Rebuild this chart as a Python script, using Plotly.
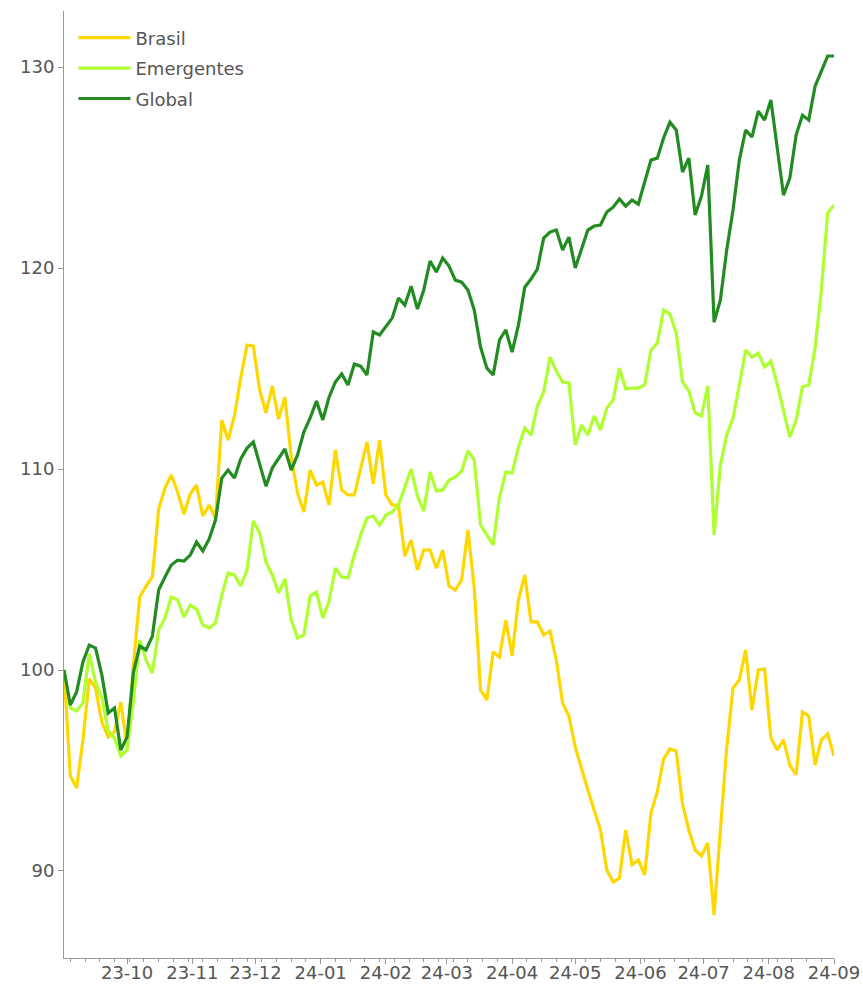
import pandas as pd
import plotly.graph_objects as go

# x grid: every 3 calendar days from 2023-09-01 to 2024-09-01 (123 points)
dates = pd.date_range("2023-09-01", "2024-09-01", freq="3D")

brasil = [
    100.00, 94.73, 94.13, 96.52, 99.55, 99.10, 97.41, 96.67, 96.92, 98.41,
    96.17, 100.25, 103.63, 104.18, 104.63, 108.01, 109.05, 109.70, 108.86, 107.76,
    108.76, 109.20, 107.66, 108.21, 107.56, 112.44, 111.44, 112.64, 114.53, 116.17,
    116.12, 113.93, 112.79, 114.13, 112.49, 113.58, 110.60, 108.81, 107.86, 109.95,
    109.20, 109.35, 108.21, 110.95, 108.96, 108.71, 108.71, 109.95, 111.34, 109.25,
    111.44, 108.71, 108.21, 108.21, 105.67, 106.47, 104.98, 105.97, 105.97, 105.07,
    105.97, 104.18, 103.98, 104.48, 106.97, 104.08, 99.00, 98.51, 100.90, 100.65,
    102.49, 100.70, 103.48, 104.73, 102.39, 102.39, 101.74, 101.94, 100.50, 98.36,
    97.71, 96.17, 95.07, 94.03, 93.03, 92.04, 90.05, 89.45, 89.65, 92.04,
    90.30, 90.55, 89.80, 92.89, 93.93, 95.57, 96.07, 95.97, 93.33, 92.04,
    91.04, 90.75, 91.39, 87.81, 92.04, 96.12, 99.10, 99.50, 101.00, 98.01,
    100.00, 100.05, 96.62, 96.02, 96.52, 95.27, 94.78, 97.91, 97.71, 95.27,
    96.52, 96.82, 95.72,
]

emergentes = [
    100.00, 98.11, 97.96, 98.36, 100.80, 99.40, 98.61, 96.97, 96.62, 95.72,
    96.02, 98.51, 101.49, 100.50, 99.85, 101.99, 102.59, 103.63, 103.48, 102.64,
    103.23, 103.03, 102.24, 102.09, 102.34, 103.73, 104.83, 104.73, 104.18, 104.98,
    107.41, 106.82, 105.37, 104.73, 103.83, 104.53, 102.49, 101.59, 101.74, 103.68,
    103.88, 102.59, 103.43, 105.07, 104.63, 104.58, 105.72, 106.72, 107.56, 107.66,
    107.21, 107.71, 107.86, 108.21, 109.10, 110.00, 108.66, 107.91, 109.85, 108.91,
    108.96, 109.45, 109.60, 109.90, 110.90, 110.45, 107.21, 106.72, 106.22, 108.61,
    109.85, 109.80, 111.09, 112.04, 111.69, 113.13, 113.83, 115.57, 114.88, 114.33,
    114.28, 111.19, 112.19, 111.69, 112.64, 111.94, 113.03, 113.43, 115.02, 113.98,
    114.03, 114.03, 114.18, 115.92, 116.27, 117.91, 117.71, 116.77, 114.33, 113.88,
    112.79, 112.64, 114.13, 106.72, 110.20, 111.69, 112.54, 114.18, 115.92, 115.57,
    115.77, 115.07, 115.37, 114.23, 112.94, 111.59, 112.44, 114.08, 114.18, 116.02,
    118.91, 122.74, 123.13,
]

global_ = [
    100.00, 98.26, 98.91, 100.40, 101.24, 101.09, 99.75, 97.86, 98.11, 96.02,
    96.67, 99.90, 101.19, 101.00, 101.69, 103.98, 104.63, 105.22, 105.47, 105.42,
    105.72, 106.37, 105.92, 106.52, 107.46, 109.55, 109.95, 109.55, 110.50, 111.04,
    111.34, 110.30, 109.15, 110.05, 110.55, 111.00, 109.95, 110.70, 111.84, 112.54,
    113.38, 112.44, 113.58, 114.33, 114.73, 114.18, 115.22, 115.12, 114.68, 116.82,
    116.67, 117.11, 117.51, 118.51, 118.16, 119.10, 117.96, 118.91, 120.35, 119.80,
    120.50, 120.10, 119.40, 119.30, 118.91, 117.91, 116.07, 115.02, 114.68, 116.42,
    116.92, 115.82, 117.16, 119.05, 119.45, 119.95, 121.49, 121.79, 121.89, 120.90,
    121.54, 120.00, 120.99, 121.89, 122.09, 122.14, 122.79, 123.03, 123.43, 123.08,
    123.38, 123.18, 124.28, 125.37, 125.47, 126.47, 127.26, 126.87, 124.78, 125.47,
    122.64, 123.58, 125.12, 117.31, 118.41, 120.90, 122.89, 125.37, 126.87, 126.52,
    127.81, 127.36, 128.36, 125.87, 123.63, 124.48, 126.62, 127.61, 127.36, 129.05,
    129.80, 130.55, 130.55,
]

series_names = ["Brasil", "Emergentes", "Global"]
series_values = [brasil, emergentes, global_]
series_colors = ["#FFD700", "#ADFF2F", "#228B22"]

x_tick_dates = ["2023-10-01", "2023-11-01", "2023-12-01", "2024-01-01",
                "2024-02-01", "2024-03-01", "2024-04-01", "2024-05-01",
                "2024-06-01", "2024-07-01", "2024-08-01", "2024-09-01"]
x_tick_labels = ["23-10", "23-11", "23-12", "24-01", "24-02", "24-03",
                 "24-04", "24-05", "24-06", "24-07", "24-08", "24-09"]
y_ticks = [90, 100, 110, 120, 130]

fig = go.Figure()
for name, vals, col in zip(series_names, series_values, series_colors):
    fig.add_trace(go.Scatter(
        x=dates, y=vals, mode="lines", name=name,
        line=dict(color=col, width=3.2),
        legendgroup=name,
    ))

axis_col = "#9a9a9a"
txt_col = "#555555"

fig.update_layout(
    width=863, height=985,
    margin=dict(l=64, r=29, t=11, b=27, autoexpand=False),
    plot_bgcolor="white", paper_bgcolor="white",
    font=dict(family="DejaVu Sans", size=18, color=txt_col),
    showlegend=True,
    legend=dict(
        x=0.0123, y=0.991, xanchor="left", yanchor="top",
        bgcolor="rgba(0,0,0,0)", font=dict(size=18, color=txt_col),
        tracegroupgap=4, itemwidth=52,
    ),
    xaxis=dict(
        type="date", range=["2023-09-01", "2024-09-01"],
        tickvals=x_tick_dates, ticktext=x_tick_labels,
        ticks="outside", ticklen=5, tickcolor=axis_col, tickwidth=1,
        showline=True, linecolor=axis_col, linewidth=1,
        showgrid=False, zeroline=False, automargin=False,
        tickfont=dict(size=18, color=txt_col),
        ticklabelstandoff=-7,
        minor=dict(ticks="outside", ticklen=3, tickcolor=axis_col,
                   dtick=7 * 86400000, tick0="2023-09-04", showgrid=False),
    ),
    yaxis=dict(
        range=[85.67, 132.79], tickvals=y_ticks,
        ticks="outside", ticklen=5, tickcolor=axis_col, tickwidth=1,
        showline=True, linecolor=axis_col, linewidth=1,
        showgrid=False, zeroline=False, automargin=False,
        tickfont=dict(size=18, color=txt_col),
    ),
)

# remove the browser's default page margin so the figure fills the window exactly
page_css = ("document.body.style.margin='0';"
            "document.documentElement.style.overflow='hidden';"
            "document.body.style.overflow='hidden';")

fig.write_html("out.html", post_script=page_css,
               config={"displayModeBar": False})
